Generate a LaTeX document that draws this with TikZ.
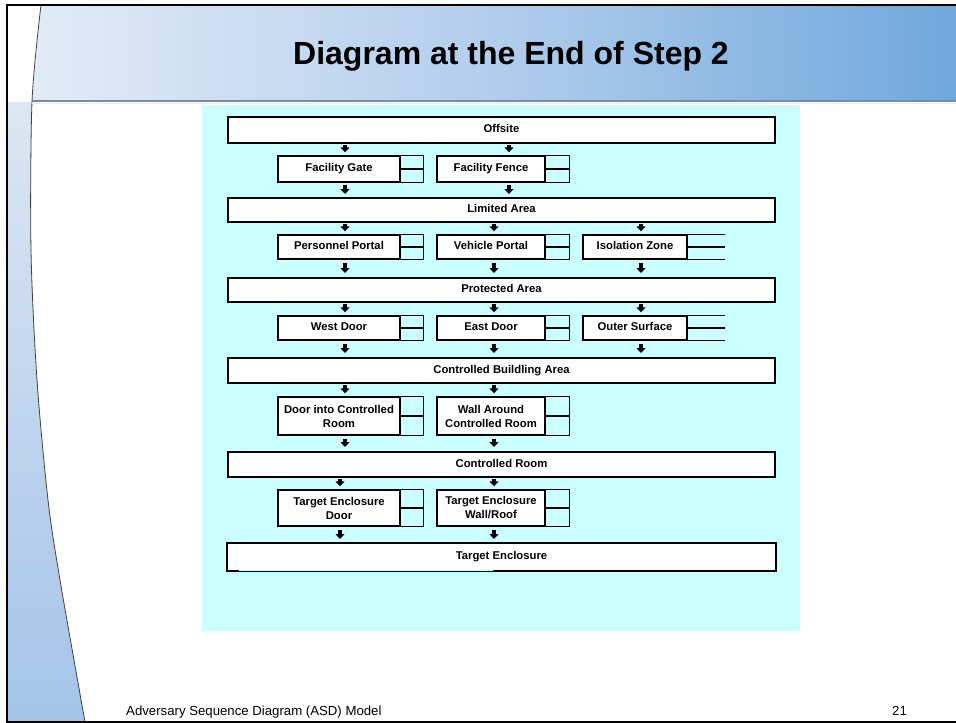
\documentclass[tikz,border=0pt]{standalone}
\usepackage{fontspec}
\setmainfont{Liberation Sans}
\usetikzlibrary{arrows.meta,calc}

\definecolor{panel}{HTML}{CCFFFF}
\definecolor{bandL}{HTML}{E1EBF7}
\definecolor{bandM}{HTML}{B2CDEC}
\definecolor{bandR}{HTML}{6FA8DC}
\definecolor{stripT}{HTML}{DCE6F4}
\definecolor{stripB}{HTML}{A4C4E8}
\definecolor{rule}{HTML}{7F8A96}

\newcommand{\boxfnt}{\fontsize{11.3}{14}\selectfont\bfseries}
% side compartment (two cells) closed on the right
\newcommand{\cellsclosed}[2]{%
  \draw[cell] (#1.north east) -- ++(#2,0) |- (#1.south east);
  \draw[cell] (#1.east) -- ++(#2,0);}
% side compartment left open on the right
\newcommand{\cellsopen}[2]{%
  \draw[cell] (#1.north east) -- ++(#2,0);
  \draw[cell] (#1.east) -- ++(#2,0);
  \draw[cell] (#1.south east) -- ++(#2,0);}

\begin{document}
\begin{tikzpicture}[x=1pt,y=-1pt,
  oneline/.style={text height=8.2pt, text depth=2.4pt},
  wide/.style={draw, line width=2pt, fill=white, minimum width=547pt,
    minimum height=#1, inner sep=0pt, font=\boxfnt, oneline},
  small/.style={draw, line width=1.4pt, fill=white, minimum height=#1,
    inner sep=0pt, align=center, font=\boxfnt},
  cell/.style={line width=1.4pt},
  flow/.style={line width=3.2pt, -{Triangle[width=9pt,length=5pt]},
    shorten <=1pt, shorten >=3pt},
  flowlong/.style={flow, shorten <=3pt, shorten >=4pt}]

\useasboundingbox (0,0) rectangle (956,723);
\fill[white] (0,0) rectangle (956,723);

% title band
\shade[left color=bandL, right color=bandR, middle color=bandM]
  (41,6) -- (956,6) -- (956,101) -- (32,101) -- cycle;
% left strip
\shade[top color=stripT, bottom color=stripB]
  (8,102) -- plot[smooth] coordinates {(32,102) (31,250) (37,380) (48,500) (60,580) (85,722)}
  -- (8,722) -- cycle;
\draw[line width=0.8pt, black!75]
  plot[smooth] coordinates {(41,5) (32,102) (31,250) (37,380) (48,500) (60,580) (85,722)};
\draw[line width=2pt, rule] (32,101) -- (956,101);
\draw[line width=1pt, black!8] (32,103.5) -- (956,103.5);

% frame
\draw[line width=2pt] (956,5) -- (7,5) -- (7,722) -- (956,722);

\node[font=\fontsize{32}{38}\selectfont\bfseries, anchor=base, inner sep=0pt]
  (title) at (511,64) {Diagram at the End of Step 2};
\node[font=\fontsize{13.2}{16}\selectfont, anchor=base west, inner sep=0pt]
  (footer) at (126,715) {Adversary Sequence Diagram (ASD) Model};
\node[font=\fontsize{13.2}{16}\selectfont, anchor=base west, inner sep=0pt]
  (pageno) at (892,715) {21};

% diagram panel
\fill[panel] (202,105) rectangle (800,631);

% arrow columns
\coordinate (cA) at (345,0);
\coordinate (cAb) at (340,0);
\coordinate (cB) at (509,0);
\coordinate (cBb) at (494,0);
\coordinate (cC) at (641,0);

% layers
\node[wide=26pt] (offsite) at (501.5,130) {Offsite};
\node[wide=24pt] (limited) at (501.5,210) {Limited Area};
\node[wide=24pt] (protected) at (501.5,290) {Protected Area};
\node[wide=25pt] (cba) at (501.5,370.5) {Controlled Buildling Area};
\node[wide=25pt] (croom) at (501.5,464.5) {Controlled Room};
\node[wide=26pt, draw=none] (tenc) at (501.5,557) {Target Enclosure};
\draw[line width=2pt] ($(tenc.south west)+(12,0)$) -- (tenc.south west)
  -- (tenc.north west) -- (tenc.north east) -- (tenc.south east)
  -- ($(tenc.south west)+(266,0)$);
\draw[line width=0.8pt] ($(tenc.south west)+(12,0)$) -- ($(tenc.south west)+(266,0)$);

% path elements
\node[small=26pt, oneline, minimum width=122pt] (gate) at (339,169) {Facility Gate};
\node[small=26pt, oneline, minimum width=108pt] (fence) at (491,169) {Facility Fence};
\node[small=24pt, oneline, minimum width=122pt] (pport) at (339,247) {Personnel Portal};
\node[small=24pt, oneline, minimum width=108pt] (vport) at (491,247) {Vehicle Portal};
\node[small=24pt, oneline, minimum width=104pt] (iso) at (635,247) {Isolation Zone};
\node[small=24pt, oneline, minimum width=122pt] (west) at (339,328) {West Door};
\node[small=24pt, oneline, minimum width=108pt] (east) at (491,328) {East Door};
\node[small=24pt, oneline, minimum width=104pt] (outer) at (635,328) {Outer Surface};
\node[small=38pt, minimum width=122pt] (doorcr) at (339,416) {Door into Controlled\\Room};
\node[small=38pt, minimum width=108pt] (wallcr) at (491,416) {Wall Around\\Controlled Room};
\node[small=36pt, minimum width=122pt] (tedoor) at (339,508) {Target Enclosure\\Door};
\node[small=36pt, minimum width=108pt] (tewall) at (491,508) {Target Enclosure\\Wall/Roof};

\cellsclosed{gate}{23}
\cellsclosed{fence}{24}
\cellsclosed{pport}{23}
\cellsclosed{vport}{24}
\cellsopen{iso}{37}
\cellsclosed{west}{23}
\cellsclosed{east}{24}
\cellsopen{outer}{37}
\cellsclosed{doorcr}{23}
\cellsclosed{wallcr}{24}
\cellsclosed{tedoor}{23}
\cellsclosed{tewall}{24}

% connectors
\draw[flow] (offsite.south -| cA) -- (gate.north -| cA);
\draw[flow] (offsite.south -| cB) -- (fence.north -| cB);
\draw[flow, shorten <=2pt] (gate.south -| cA) -- (limited.north -| cA);
\draw[flow, shorten <=2pt] (fence.south -| cB) -- (limited.north -| cB);

\draw[flow] (limited.south -| cA) -- (pport.north -| cA);
\draw[flow] (limited.south -| cBb) -- (vport.north -| cBb);
\draw[flow] (limited.south -| cC) -- (iso.north -| cC);
\draw[flowlong] (pport.south -| cA) -- (protected.north -| cA);
\draw[flowlong] (vport.south -| cBb) -- (protected.north -| cBb);
\draw[flowlong] (iso.south -| cC) -- (protected.north -| cC);

\draw[flow] (protected.south -| cA) -- (west.north -| cA);
\draw[flow] (protected.south -| cBb) -- (east.north -| cBb);
\draw[flow] (protected.south -| cC) -- (outer.north -| cC);
\draw[flowlong] (west.south -| cA) -- (cba.north -| cA);
\draw[flowlong] (east.south -| cBb) -- (cba.north -| cBb);
\draw[flowlong] (outer.south -| cC) -- (cba.north -| cC);

\draw[flow] (cba.south -| cA) -- (doorcr.north -| cA);
\draw[flow] (cba.south -| cBb) -- (wallcr.north -| cBb);
\draw[flowlong] (doorcr.south -| cA) -- (croom.north -| cA);
\draw[flowlong] (wallcr.south -| cBb) -- (croom.north -| cBb);

\draw[flow] (croom.south -| cAb) -- (tedoor.north -| cAb);
\draw[flow] (croom.south -| cBb) -- (tewall.north -| cBb);
\draw[flowlong] (tedoor.south -| cAb) -- (tenc.north -| cAb);
\draw[flowlong] (tewall.south -| cBb) -- (tenc.north -| cBb);
\end{tikzpicture}
\end{document}
